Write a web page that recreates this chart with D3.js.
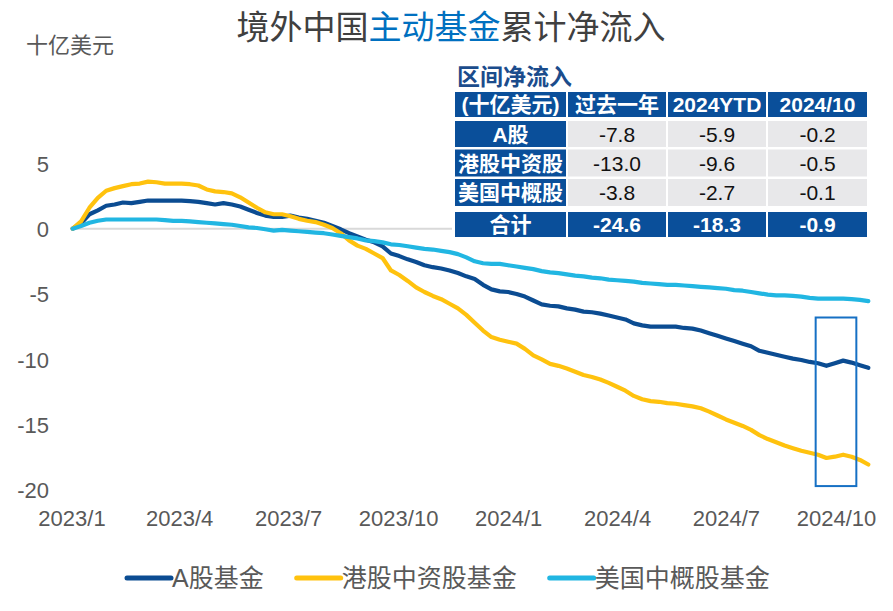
<!DOCTYPE html>
<html><head><meta charset="utf-8">
<script src="https://cdn.jsdelivr.net/npm/d3@7"></script>
<style>
html,body{margin:0;padding:0;background:#fff;}
svg{display:block;font-family:"Liberation Sans","Noto Sans CJK SC",sans-serif;}
</style></head>
<body><svg id="c" width="893" height="611"></svg>
<script>
// ---- data ----
const startDate = new Date(2023, 0, 2); // weekly observations
const seriesNames = ["A股基金", "港股中资股基金", "美国中概股基金"];
const aShare = [0,0.4,1.1,1.4,1.75,1.85,2.0,1.95,2.05,2.15, 2.15,2.15,2.15,2.15,2.1,2.05,1.95,1.85,1.95,1.85, 1.7,1.45,1.2,1.0,0.9,0.9,1.0,0.85,0.75,0.6, 0.45,0.2,-0.05,-0.35,-0.6,-0.85,-1.05,-1.35,-1.9, -2.1,-2.35,-2.55,-2.8,-2.95,-3.05,-3.2,-3.4,-3.65,-3.85, -4.3,-4.65,-4.8,-4.85,-5.0,-5.2,-5.5,-5.8,-5.9,-5.95, -6.1,-6.2,-6.35,-6.4,-6.5,-6.65,-6.8,-6.95,-7.25,-7.4, -7.5,-7.5,-7.5,-7.5,-7.6,-7.65,-7.8,-8.0,-8.2,-8.4, -8.6,-8.8,-9.0,-9.35,-9.5,-9.65,-9.8,-9.95,-10.05,-10.2, -10.3,-10.5,-10.3,-10.1,-10.25,-10.45,-10.65];
const hkShare = [0,0.55,1.6,2.35,2.9,3.1,3.25,3.4,3.45,3.6, 3.55,3.45,3.45,3.45,3.4,3.3,3.0,2.85,2.8,2.7, 2.4,2.0,1.6,1.25,1.1,1.1,0.95,0.75,0.6,0.5, 0.3,0.05,-0.35,-0.9,-1.3,-1.55,-1.9,-2.25,-3.2, -3.55,-4.0,-4.5,-4.85,-5.15,-5.4,-5.75,-6.1,-6.6,-7.2, -7.8,-8.3,-8.5,-8.65,-8.8,-9.2,-9.7,-10.0,-10.35,-10.5, -10.7,-10.95,-11.2,-11.35,-11.55,-11.8,-12.1,-12.4,-12.8,-13.05, -13.2,-13.25,-13.35,-13.4,-13.5,-13.6,-13.75,-14.0,-14.3,-14.6, -14.85,-15.1,-15.4,-15.8,-16.1,-16.35,-16.6,-16.8,-17.0,-17.15, -17.3,-17.55,-17.45,-17.3,-17.45,-17.7,-18.05];
const usShare = [0,0.2,0.45,0.6,0.7,0.7,0.7,0.7,0.7,0.7, 0.7,0.65,0.6,0.6,0.55,0.5,0.45,0.4,0.35,0.3, 0.2,0.1,0.05,-0.05,-0.15,-0.1,-0.15,-0.2,-0.25,-0.3, -0.35,-0.45,-0.55,-0.65,-0.75,-0.9,-0.95,-1.05,-1.2, -1.25,-1.35,-1.45,-1.55,-1.6,-1.7,-1.8,-1.95,-2.2,-2.5, -2.65,-2.7,-2.7,-2.8,-2.9,-3.0,-3.1,-3.25,-3.35,-3.4, -3.5,-3.6,-3.65,-3.75,-3.8,-3.9,-3.95,-4.0,-4.05,-4.15, -4.2,-4.25,-4.3,-4.3,-4.35,-4.4,-4.45,-4.5,-4.55,-4.6, -4.7,-4.75,-4.85,-4.95,-5.05,-5.1,-5.1,-5.15,-5.2,-5.3, -5.35,-5.35,-5.35,-5.35,-5.4,-5.45,-5.55];
const yTicks = [5, 0, -5, -10, -15, -20];
const xTickDates = [[2023,0],[2023,3],[2023,6],[2023,9],[2024,0],[2024,3],[2024,6],[2024,9]];
const xTickLabels = ["2023/1","2023/4","2023/7","2023/10","2024/1","2024/4","2024/7","2024/10"];
const highlightDates = [new Date(2024, 8, 14), new Date(2024, 9, 18)];
const highlightValues = [-6.8, -19.7];

const tableTitle = "区间净流入";
const tableCols = ["(十亿美元)", "过去一年", "2024YTD", "2024/10"];
const tableRows = ["A股", "港股中资股", "美国中概股"];
const tableValues = [[-7.8, -5.9, -0.2], [-13.0, -9.6, -0.5], [-3.8, -2.7, -0.1]];
const totalLabel = "合计";
const totalValues = [-24.6, -18.3, -0.9];

// ---- styles ----
const colors = ["#0B4C92", "#FFC20E", "#21B6E2"];
const gray = "#595959";
const tblBlue = "#0A4F9A";
const fmt = v => v.toFixed(1);

const svg = d3.select("#c");
const dates = aShare.map((_, i) => d3.timeDay.offset(startDate, 7 * i));
const series = [aShare, hkShare, usShare];

const x = d3.scaleTime().domain([new Date(2023,0,1), new Date(2024,9,1)]).range([71.5, 836]);
const y = d3.scaleLinear().domain([-20, 5]).range([490, 163.3]);

// zero line
svg.append("line").attr("x1", 73).attr("x2", 866).attr("y1", y(0)).attr("y2", y(0))
  .attr("stroke", "#D9D9D9").attr("stroke-width", 2);

// y axis
const yAxis = d3.axisLeft(y).tickValues(yTicks).tickSize(0).tickPadding(0).tickFormat(d => String(d));
const gy = svg.append("g").attr("transform", "translate(49,0)").call(yAxis);
gy.select(".domain").remove();
gy.selectAll("text").attr("font-size", 22).attr("fill", gray)
  .attr("font-family", "'Liberation Sans',sans-serif").attr("dy", "0.35em");

// x axis
const xAxis = d3.axisBottom(x).tickValues(xTickDates.map(d => new Date(d[0], d[1], 1)))
  .tickSize(0).tickPadding(0).tickFormat((d, i) => xTickLabels[i]);
const gx = svg.append("g").attr("transform", "translate(0,509)").call(xAxis);
gx.select(".domain").remove();
gx.selectAll("text").attr("font-size", 22).attr("fill", gray)
  .attr("font-family", "'Liberation Sans',sans-serif").attr("dy", "0.75em");

// lines
const line = d3.line().x((d, i) => x(dates[i])).y(d => y(d));
series.forEach((s, i) => {
  svg.append("path").datum(s).attr("d", line).attr("fill", "none")
    .attr("stroke", colors[i]).attr("stroke-width", 4.2)
    .attr("stroke-linejoin", "round").attr("stroke-linecap", "round");
});

// highlight box
svg.append("rect")
  .attr("x", x(highlightDates[0])).attr("y", y(highlightValues[0]))
  .attr("width", x(highlightDates[1]) - x(highlightDates[0]))
  .attr("height", y(highlightValues[1]) - y(highlightValues[0]))
  .attr("fill", "none").attr("stroke", "#1670C4").attr("stroke-width", 2);

// title
const title = svg.append("text").attr("x", 451).attr("y", 39).attr("text-anchor", "middle")
  .attr("font-size", 33).attr("font-family", "'Noto Sans CJK SC',sans-serif").attr("fill", "#404040");
title.append("tspan").text("境外中国");
title.append("tspan").attr("fill", "#0070C0").text("主动基金");
title.append("tspan").text("累计净流入");

svg.append("text").attr("x", 26).attr("y", 53).attr("font-size", 22)
  .attr("font-family", "'Noto Sans CJK SC',sans-serif").attr("fill", gray).text("十亿美元");

// table
const tg = svg.append("g");
tg.append("rect").attr("x", 452).attr("y", 60).attr("width", 420).attr("height", 182).attr("fill", "#fff");
tg.append("text").attr("x", 457).attr("y", 85).attr("font-size", 23).attr("font-weight", "bold")
  .attr("font-family", "'Noto Sans CJK SC',sans-serif").attr("fill", "#1B4C8C").text(tableTitle);
const colX = [455, 568, 668, 768], colW = [111, 98, 98, 99];
const rowsY = [[92, 25], [121, 26], [149.5, 27], [179, 27], [212, 25]];
const cell = (ci, ri, txt, bg, color, bold) => {
  const [ry, rh] = rowsY[ri];
  tg.append("rect").attr("x", colX[ci]).attr("y", ry).attr("width", colW[ci]).attr("height", rh).attr("fill", bg);
  tg.append("text").attr("x", colX[ci] + colW[ci] / 2).attr("y", ry + rh / 2).attr("dy", "0.36em")
    .attr("text-anchor", "middle").attr("font-size", 21).attr("font-weight", bold ? "bold" : "normal")
    .attr("fill", color).text(txt);
};
tableCols.forEach((c, ci) => cell(ci, 0, c, tblBlue, "#fff", true));
tableRows.forEach((r, ri) => {
  cell(0, ri + 1, r, tblBlue, "#fff", true);
  tableValues[ri].forEach((v, vi) => cell(vi + 1, ri + 1, fmt(v), "#E8E8EA", "#111", false));
});
cell(0, 4, totalLabel, tblBlue, "#fff", true);
totalValues.forEach((v, vi) => cell(vi + 1, 4, fmt(v), tblBlue, "#fff", true));

// legend
const lg = svg.append("g");
let lx = 127;
seriesNames.forEach((n, i) => {
  lg.append("line").attr("x1", lx).attr("x2", lx + 44).attr("y1", 578).attr("y2", 578)
    .attr("stroke", colors[i]).attr("stroke-width", 5).attr("stroke-linecap", "round");
  const t = lg.append("text").attr("x", lx + 45).attr("y", 587).attr("font-size", 25)
    .attr("fill", gray).text(n);
  lx += 45 + t.node().getComputedTextLength() + 33;
});
</script></body></html>
